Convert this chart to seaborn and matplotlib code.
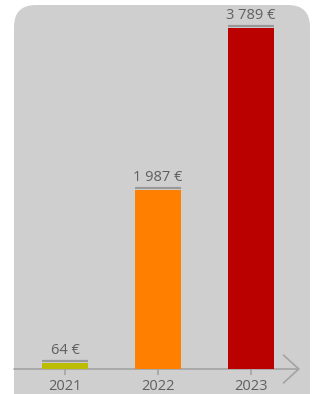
import matplotlib
matplotlib.use("Agg")
import matplotlib.pyplot as plt
from matplotlib.patches import FancyBboxPatch
from matplotlib.transforms import offset_copy
import seaborn as sns

# --- data ---
years = ["2021", "2022", "2023"]
amounts = [64, 1987, 3789]
bar_colors = ["#bcbc00", "#ff8000", "#bb0000"]

BG = "#cfcfcf"
AXIS_GREY = "#a3a3a3"
TEXT_GREY = "#5f5f5f"

sns.set_theme(style="white")
plt.rcParams["font.family"] = ["Open Sans", "DejaVu Sans"]

W, H = 312, 394
fig = plt.figure(figsize=(W / 100, H / 100), dpi=100, facecolor="white")

# rounded grey panel behind the chart (pixel coords)
panel = FancyBboxPatch((14, -30), 296, 419, boxstyle="round,pad=0,rounding_size=22",
                       transform=None, facecolor=BG, edgecolor="none", zorder=-10)
fig.patches.append(panel)

# axes: baseline at y=369px from top, x from 14 to 300px
ax = fig.add_axes([14 / W, 25 / H, 286 / W, 364 / H])
ax.set_facecolor("none")
ax.set_zorder(5)

sns.barplot(x=years, y=amounts, hue=years, palette=bar_colors, legend=False,
            width=0.505, saturation=1, ax=ax, zorder=2, edgecolor="none", linewidth=0)

ax.set_xlim(-51 / 93, 235 / 93)
ax.set_ylim(0, 364 / 341 * 3789)

for s in ax.spines.values():
    s.set_visible(False)
ax.set_yticks([])
ax.tick_params(axis="x", direction="inout", length=9, width=1.2, color=AXIS_GREY,
               labelsize=10.5, labelcolor=TEXT_GREY, pad=3, bottom=True)

# axis line with open arrow head
ax.annotate("", xy=(1, 0), xytext=(0, 0), xycoords="axes fraction",
            arrowprops=dict(arrowstyle="->,head_length=1.1,head_width=1.0",
                            color=AXIS_GREY, lw=1.2, shrinkA=0, shrinkB=0,
                            mutation_scale=10), zorder=1, annotation_clip=False)

# value labels with grey underline above each bar
line_tr = offset_copy(ax.transData, fig=fig, x=0, y=2.5, units="dots")
for i, v in enumerate(amounts):
    ax.plot([i - 0.2525, i + 0.2525], [v, v], color="#999999", lw=1.6,
            transform=line_tr, solid_capstyle="butt", zorder=3, clip_on=False)
    label = f"{v:,} €".replace(",", " ")
    ax.annotate(label, xy=(i, v), xytext=(0, 5), textcoords="offset pixels",
                ha="center", va="bottom", fontsize=10.5, color=TEXT_GREY,
                annotation_clip=False)

ax.set_xlabel("")
ax.set_ylabel("")

fig.savefig("out.png", dpi=100, facecolor="white")
